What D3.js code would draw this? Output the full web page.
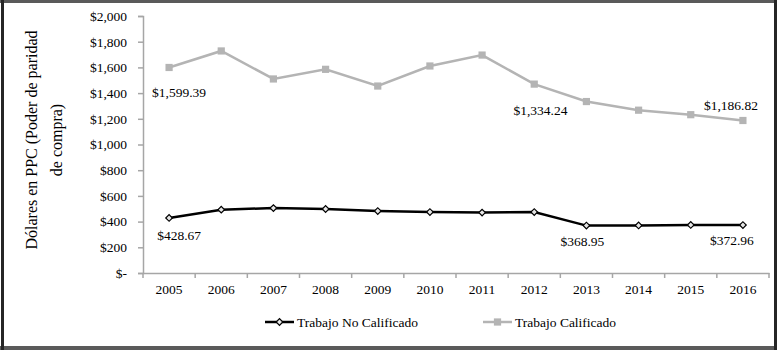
<!DOCTYPE html>
<html>
<head>
<meta charset="utf-8">
<script src="https://cdn.jsdelivr.net/npm/d3@7"></script>
<style>
    body { margin: 0; background: #fff; }
    svg text { font-family: "Liberation Serif", "Times New Roman", Times, "DejaVu Serif", serif; fill: #000; }
</style>
</head>
<body>
<div id="chart"></div>
<script>
// Chart data
const years = ['2005', '2006', '2007', '2008', '2009', '2010', '2011', '2012', '2013', '2014', '2015', '2016'];
const noCalificado = [428.67, 493, 505, 498, 482, 474, 470, 474, 368.95, 370, 374, 372.96];
const calificado = [1599.39, 1728, 1510, 1585, 1455, 1611, 1696, 1470, 1334.24, 1267, 1232, 1186.82];
const yTicks = [0, 200, 400, 600, 800, 1000, 1200, 1400, 1600, 1800, 2000];
const seriesNames = ['Trabajo No Calificado', 'Trabajo Calificado'];
const yTitleLines = ['Dólares en PPC (Poder de paridad', 'de compra)'];

// Labelled points: series, year index, placement
const pointLabels = [
    { series: 1, i: 0, place: 'belowRight' },
    { series: 1, i: 8, place: 'farLeft' },
    { series: 1, i: 11, place: 'aboveLeft' },
    { series: 0, i: 0, place: 'lowRight' },
    { series: 0, i: 8, place: 'low' },
    { series: 0, i: 11, place: 'lowLeft' }
];

const width = 779, height = 350;
const margin = { top: 16, right: 10, bottom: 77, left: 143 };
const grey = '#b4b4b4';
const axisGrey = '#a6a6a6';
const serif = '"Liberation Serif", "Times New Roman", Times, "DejaVu Serif", serif';

const svg = d3.select('#chart').append('svg')
    .attr('width', width)
    .attr('height', height);

// Frame around the chart
svg.append('rect').attr('x', 0).attr('y', 0).attr('width', 777).attr('height', 3).attr('fill', '#5a5a5a');
svg.append('rect').attr('x', 0).attr('y', 346).attr('width', 777).attr('height', 4).attr('fill', '#5a5a5a');
svg.append('rect').attr('x', 1).attr('y', 0).attr('width', 3).attr('height', 350).attr('fill', '#262626');
svg.append('rect').attr('x', 774).attr('y', 0).attr('width', 3).attr('height', 350).attr('fill', '#262626');

// Scales
const x = d3.scaleBand()
    .domain(years)
    .range([margin.left, 769])
    .padding(0);
const y = d3.scaleLinear()
    .domain([0, 2000])
    .range([273, margin.top]);
const cx = d => x(d) + x.bandwidth() / 2;

// Y axis
const yAxis = svg.append('g')
    .attr('transform', `translate(${margin.left},0)`)
    .call(d3.axisLeft(y)
        .tickValues(yTicks)
        .tickSize(5)
        .tickPadding(11)
        .tickFormat(d => d === 0 ? '$-' : '$' + d3.format(',')(d)));
yAxis.attr('font-family', serif).attr('font-size', 13.5);
yAxis.select('.domain').attr('stroke', axisGrey).attr('stroke-width', 1.5);
yAxis.selectAll('.tick line').attr('stroke', axisGrey).attr('stroke-width', 1.5);
yAxis.selectAll('.tick text').attr('fill', '#000');

// X axis (labels centred, ticks on category boundaries)
const xAxis = svg.append('g')
    .attr('transform', `translate(0,${y(0)})`)
    .call(d3.axisBottom(x).tickSize(0).tickPadding(11).tickSizeOuter(0));
xAxis.attr('font-family', serif).attr('font-size', 13.5);
xAxis.select('.domain').attr('stroke', axisGrey).attr('stroke-width', 1.5);
xAxis.selectAll('.tick text').attr('fill', '#000');
const boundaries = years.map(d => x(d)).concat([x.range()[1]]);
xAxis.selectAll('.bound')
    .data(boundaries)
    .enter()
    .append('line')
    .attr('x1', d => d).attr('x2', d => d)
    .attr('y1', 0).attr('y2', 5)
    .attr('stroke', axisGrey)
    .attr('stroke-width', 1.5);

// Y axis title
const title = svg.append('text')
    .attr('transform', 'translate(50,140) rotate(-90)')
    .attr('text-anchor', 'middle')
    .attr('font-family', serif)
    .attr('font-size', 16);
title.selectAll('tspan')
    .data(yTitleLines)
    .enter()
    .append('tspan')
    .attr('x', 0)
    .attr('y', (d, i) => -13 + i * 25)
    .text(d => d);

// Lines
const line = d3.line()
    .x((d, i) => cx(years[i]))
    .y(d => y(d));

svg.append('path')
    .datum(calificado)
    .attr('d', line)
    .attr('fill', 'none')
    .attr('stroke', grey)
    .attr('stroke-width', 2.5);

svg.append('path')
    .datum(noCalificado)
    .attr('d', line)
    .attr('fill', 'none')
    .attr('stroke', '#000')
    .attr('stroke-width', 2.5);

// Markers
const square = d3.symbol().type(d3.symbolSquare).size(52);
const diamond = d3.symbol().type(d3.symbolSquare).size(22);

svg.selectAll('.sq')
    .data(calificado)
    .enter()
    .append('path')
    .attr('d', square)
    .attr('transform', (d, i) => `translate(${cx(years[i])},${y(d)})`)
    .attr('fill', grey);

svg.selectAll('.dm')
    .data(noCalificado)
    .enter()
    .append('path')
    .attr('d', diamond)
    .attr('transform', (d, i) => `translate(${cx(years[i])},${y(d)}) rotate(45)`)
    .attr('fill', '#e6e6e6')
    .attr('stroke', '#000')
    .attr('stroke-width', 1.2);

// Data labels
const offsets = {
    belowRight: [10, 30],
    farLeft: [-46, 13],
    aboveLeft: [-12, -10],
    lowRight: [10, 22],
    low: [-4, 20],
    lowLeft: [-11, 20]
};
const series = [noCalificado, calificado];
svg.selectAll('.dlabel')
    .data(pointLabels)
    .enter()
    .append('text')
    .attr('x', d => cx(years[d.i]) + offsets[d.place][0])
    .attr('y', d => y(series[d.series][d.i]) + offsets[d.place][1])
    .attr('text-anchor', 'middle')
    .attr('font-family', serif)
    .attr('font-size', 13.5)
    .text(d => '$' + d3.format(',.2f')(series[d.series][d.i]));

// Legend
const legendItems = [
    { name: seriesNames[0], x: 265, color: '#000', marker: diamond, rot: 45 },
    { name: seriesNames[1], x: 483, color: grey, marker: square, rot: 0 }
];
const lg = svg.selectAll('.legend')
    .data(legendItems)
    .enter()
    .append('g')
    .attr('transform', d => `translate(${d.x},322)`);
lg.append('line')
    .attr('x1', 0).attr('x2', 29)
    .attr('y1', 0).attr('y2', 0)
    .attr('stroke', d => d.color)
    .attr('stroke-width', 2.5);
lg.append('path')
    .attr('d', d => d.marker())
    .attr('transform', d => `translate(14.5,0) rotate(${d.rot})`)
    .attr('fill', (d, i) => i === 0 ? '#e6e6e6' : grey)
    .attr('stroke', (d, i) => i === 0 ? '#000' : 'none')
    .attr('stroke-width', 1.2);
lg.append('text')
    .attr('x', 32)
    .attr('y', 5)
    .attr('font-family', serif)
    .attr('font-size', 13.5)
    .text(d => d.name);
</script>
</body>
</html>
